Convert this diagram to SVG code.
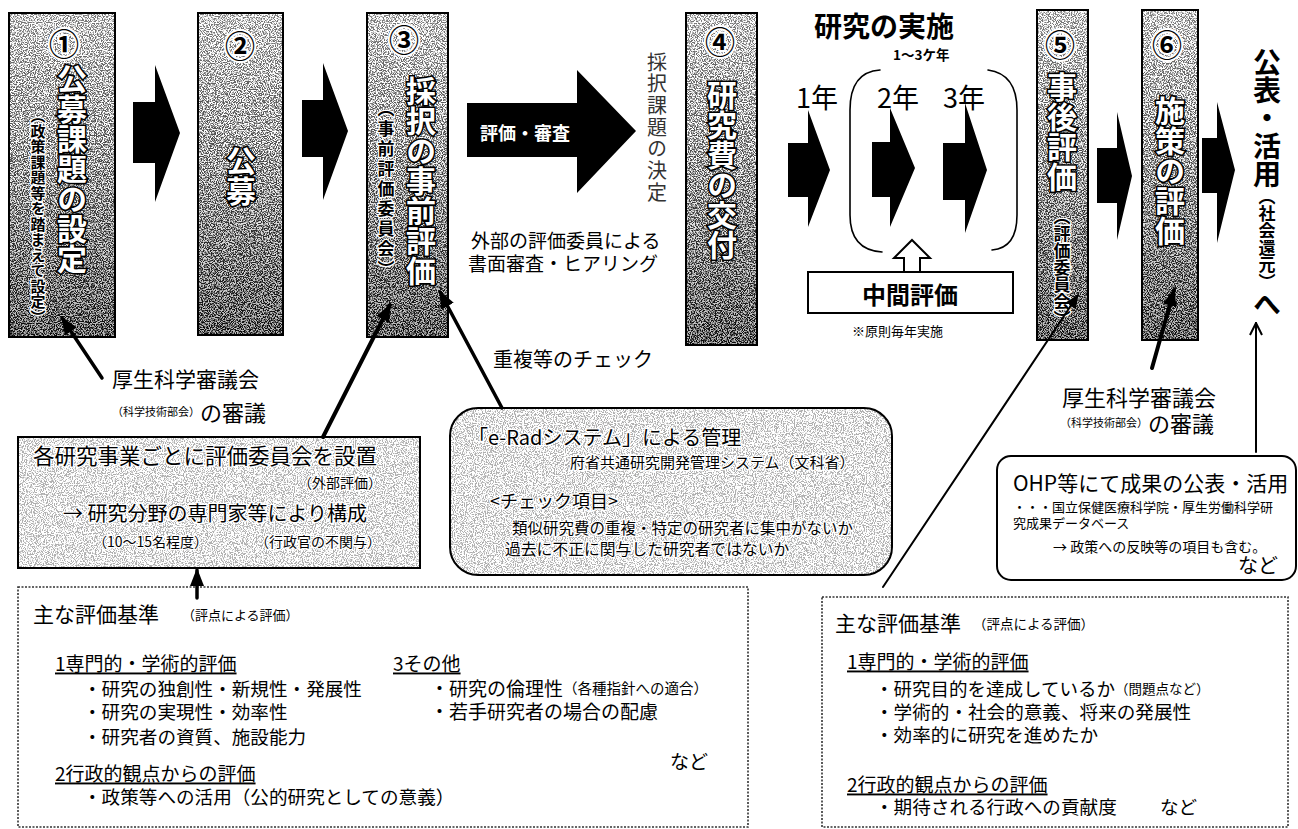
<svg xmlns="http://www.w3.org/2000/svg" width="1298" height="829" viewBox="0 0 1298 829">
<defs>
<style>
.jp{font-family:"Noto Sans CJK JP","Noto Sans CJK SC",sans-serif;fill:#000}
.v{writing-mode:vertical-rl}
.c{dominant-baseline:central}
.b{font-weight:700}
.colb{fill:none;stroke:#000;stroke-width:2}
.big{fill:#fff;stroke:#000;stroke-width:3.2;paint-order:stroke fill;font-weight:700;font-size:30px}
.num{fill:#000;stroke:#fff;stroke-width:4;paint-order:stroke fill;font-weight:700;font-size:30px;text-anchor:middle}
.sm{fill:#000;stroke:#fff;stroke-width:2.5;paint-order:stroke fill;font-weight:700}
.halo{stroke:#fff;stroke-width:2.5;paint-order:stroke fill}
.u{text-decoration:underline}
.blk{fill:#000}
.ptr{stroke:#000;fill:none;stroke-linecap:round}
.dot{fill:#fff;stroke:#333;stroke-width:1.6;stroke-dasharray:2 1.5}
</style>
<linearGradient id="colg" x1="0" y1="0" x2="0" y2="1">
<stop offset="0" stop-color="#d2d2d2"/>
<stop offset="0.5" stop-color="#9a9a9a"/>
<stop offset="1" stop-color="#606060"/>
</linearGradient>
<filter id="grain" x="0" y="0" width="1" height="1" color-interpolation-filters="sRGB">
<feTurbulence type="fractalNoise" baseFrequency="0.85" numOctaves="2" seed="7" result="n"/>
<feColorMatrix in="n" type="matrix" values="5 0 0 0 -2  5 0 0 0 -2  5 0 0 0 -2  0 0 0 0 1" result="g"/>
<feComposite in="SourceGraphic" in2="g" operator="arithmetic" k1="0" k2="1" k3="0.7" k4="-0.35" result="c"/>
<feComposite in="c" in2="SourceAlpha" operator="in"/>
</filter>
<filter id="grainL" x="0" y="0" width="1" height="1" color-interpolation-filters="sRGB">
<feTurbulence type="fractalNoise" baseFrequency="0.9" numOctaves="2" seed="3" result="n"/>
<feColorMatrix in="n" type="matrix" values="5 0 0 0 -2  5 0 0 0 -2  5 0 0 0 -2  0 0 0 0 1" result="g"/>
<feComposite in="SourceGraphic" in2="g" operator="arithmetic" k1="0" k2="1" k3="0.5" k4="-0.25" result="c"/>
<feComposite in="c" in2="SourceAlpha" operator="in"/>
</filter>
<marker id="ah" markerUnits="userSpaceOnUse" markerWidth="18" markerHeight="14" refX="16" refY="7" orient="auto">
<path d="M0,0 L18,7 L0,14 z" fill="#000"/>
</marker>
<marker id="ahs" markerUnits="userSpaceOnUse" markerWidth="14" markerHeight="12" refX="13" refY="6" orient="auto">
<path d="M0,0 L14,6 L0,12 z" fill="#000"/>
</marker>
<marker id="aho" markerUnits="userSpaceOnUse" markerWidth="14" markerHeight="14" refX="13" refY="7" orient="auto">
<path d="M1,1 L13,7 L1,13" fill="none" stroke="#000" stroke-width="2"/>
</marker>
</defs>
<rect width="1298" height="829" fill="#fff"/>

<g id="node1">
<rect x="9" y="13" width="106" height="324" fill="url(#colg)" filter="url(#grain)"/>
<rect class="colb" x="9" y="13" width="106" height="324"/>
<text class="jp num c" x="64" y="42">①</text>
<text class="jp v big" x="72" y="64">公募課題の設定</text>
<text class="jp v sm" x="38" y="108" font-size="15" letter-spacing="0.5">（政策課題等を踏まえて設定）</text>
</g>
<g id="node2">
<rect x="198" y="13" width="85" height="322" fill="url(#colg)" filter="url(#grain)"/>
<rect class="colb" x="198" y="13" width="85" height="322"/>
<text class="jp num c" x="240" y="44">②</text>
<text class="jp v big" x="241" y="146" font-size="28">公募</text>
</g>
<g id="node3">
<rect x="367" y="13" width="81" height="324" fill="url(#colg)" filter="url(#grain)"/>
<rect class="colb" x="367" y="13" width="81" height="324"/>
<text class="jp num c" x="404" y="38">③</text>
<text class="jp v big" x="421" y="76">採択の事前評価</text>
<text class="jp v sm" x="386" y="100" font-size="17" letter-spacing="3">（事前評価委員会）</text>
</g>
<g id="node4">
<rect x="686" y="13" width="71" height="332" fill="url(#colg)" filter="url(#grain)"/>
<rect class="colb" x="686" y="13" width="71" height="332"/>
<text class="jp num c" x="720" y="40">④</text>
<text class="jp v big" x="722" y="80">研究費の交付</text>
</g>
<g id="node5">
<rect x="1037" y="10" width="51" height="330" fill="url(#colg)" filter="url(#grain)"/>
<rect class="colb" x="1037" y="10" width="51" height="330"/>
<text class="jp num c" x="1060" y="43">⑤</text>
<text class="jp v big" x="1062" y="72">事後評価</text>
<text class="jp v sm" x="1062" y="208" font-size="17">（評価委員会）</text>
</g>
<g id="node6">
<rect x="1142" y="10" width="56" height="330" fill="url(#colg)" filter="url(#grain)"/>
<rect class="colb" x="1142" y="10" width="56" height="330"/>
<text class="jp num c" x="1167" y="43">⑥</text>
<text class="jp v big" x="1170" y="96">施策の評価</text>
</g>

<g id="research">
<text class="jp b c" x="814" y="25" font-size="28">研究の実施</text>
<text class="jp b c" x="893" y="54" font-size="13.5">1～3ケ年</text>
<text class="jp c" x="796" y="96" font-size="27">1年</text>
<text class="jp c" x="877" y="96" font-size="27">2年</text>
<text class="jp c" x="943" y="96" font-size="27">3年</text>
</g>
<g id="interim">
<rect x="808" y="272" width="205" height="41" fill="#fff" stroke="#000" stroke-width="2"/>
<text class="jp b c" x="910" y="293" font-size="24" text-anchor="middle">中間評価</text>
<text class="jp c" x="852" y="330" font-size="13">※原則毎年実施</text>
</g>

<g id="labels">
<text class="jp v" x="657" y="52" font-size="20" letter-spacing="1.7" style="fill:#333">採択課題の決定</text>
<text class="jp c" x="471" y="239" font-size="19">外部の評価委員による</text>
<text class="jp c" x="468" y="262" font-size="19">書面審査・ヒアリング</text>
<text class="jp c" x="493" y="358" font-size="20">重複等のチェック</text>
<text class="jp c" x="112" y="378" font-size="21">厚生科学審議会</text>
<text class="jp c" x="112" y="411" font-size="22"><tspan font-size="11">（科学技術部会）</tspan>の審議</text>
<text class="jp c" x="1062" y="396" font-size="22">厚生科学審議会</text>
<text class="jp c" x="1060" y="422" font-size="22"><tspan font-size="11">（科学技術部会）</tspan>の審議</text>
<text class="jp v b" x="1267" y="48" font-size="28">公表・活用<tspan font-size="17">（社会還元）</tspan>へ</text>
</g>

<g id="committee">
<rect x="18" y="437" width="402" height="131" fill="#efefef" filter="url(#grainL)"/>
<rect x="18" y="437" width="402" height="131" fill="none" stroke="#000" stroke-width="2"/>
<text class="jp c halo" x="33" y="454" font-size="21.5">各研究事業ごとに評価委員会を設置</text>
<text class="jp c halo" x="382" y="482" font-size="14" text-anchor="end">（外部評価）</text>
<text class="jp c halo" x="63" y="512" font-size="20">→ 研究分野の専門家等により構成</text>
<text class="jp c halo" x="93" y="541" font-size="14">（10～15名程度）</text>
<text class="jp c halo" x="255" y="541" font-size="14">（行政官の不関与）</text>
</g>

<g id="erad">
<rect x="450" y="408" width="442" height="167" rx="28" fill="#efefef" filter="url(#grainL)"/>
<rect x="450" y="408" width="442" height="167" rx="28" fill="none" stroke="#000" stroke-width="2"/>
<text class="jp c halo" x="468" y="436" font-size="20">「e-Radシステム」による管理</text>
<text class="jp c halo" x="570" y="461" font-size="15">府省共通研究開発管理システム（文科省）</text>
<text class="jp c halo" x="490" y="500" font-size="18">&lt;チェック項目&gt;</text>
<text class="jp c halo" x="512" y="527" font-size="15.5">類似研究費の重複・特定の研究者に集中がないか</text>
<text class="jp c halo" x="505" y="548" font-size="15.8">過去に不正に関与した研究者ではないか</text>
</g>

<g id="ohp">
<rect x="997" y="456" width="299" height="124" rx="14" fill="#fff" stroke="#000" stroke-width="2"/>
<text class="jp c" x="1013" y="482" font-size="21">OHP等にて成果の公表・活用</text>
<text class="jp c" x="1013" y="506" font-size="13">・・・国立保健医療科学院・厚生労働科学研</text>
<text class="jp c" x="1013" y="522" font-size="13">究成果データベース</text>
<text class="jp c" x="1053" y="546" font-size="14">→ 政策への反映等の項目も含む。</text>
<text class="jp c" x="1238" y="564" font-size="20">など</text>
</g>

<g id="criteria-left">
<rect class="dot" x="18" y="587" width="730" height="240"/>
<text class="jp c" x="33" y="613" font-size="21">主な評価基準</text>
<text class="jp c" x="182" y="614" font-size="13">（評点による評価）</text>
<text class="jp c u" x="55" y="662" font-size="19">1専門的・学術的評価</text>
<text class="jp c" x="83" y="687" font-size="18.6">・研究の独創性・新規性・発展性</text>
<text class="jp c" x="83" y="710" font-size="18.6">・研究の実現性・効率性</text>
<text class="jp c" x="83" y="735" font-size="18.6">・研究者の資質、施設能力</text>
<text class="jp c u" x="55" y="772" font-size="19">2行政的観点からの評価</text>
<text class="jp c" x="83" y="795" font-size="18.6">・政策等への活用（公的研究としての意義）</text>
<text class="jp c u" x="393" y="662" font-size="19">3その他</text>
<text class="jp c" x="430" y="687" font-size="19">・研究の倫理性<tspan font-size="14.5">（各種指針への適合）</tspan></text>
<text class="jp c" x="430" y="710" font-size="19">・若手研究者の場合の配慮</text>
<text class="jp c" x="670" y="760" font-size="19">など</text>
</g>

<g id="criteria-right">
<rect class="dot" x="822" y="597" width="466" height="230"/>
<text class="jp c" x="835" y="622" font-size="21">主な評価基準</text>
<text class="jp c" x="973" y="623" font-size="13.5">（評点による評価）</text>
<text class="jp c u" x="847" y="660" font-size="19">1専門的・学術的評価</text>
<text class="jp c" x="875" y="688" font-size="18.5">・研究目的を達成しているか<tspan font-size="13.5">（問題点など）</tspan></text>
<text class="jp c" x="875" y="710" font-size="18.6">・学術的・社会的意義、将来の発展性</text>
<text class="jp c" x="875" y="733" font-size="18.6">・効率的に研究を進めたか</text>
<text class="jp c u" x="847" y="783" font-size="19">2行政的観点からの評価</text>
<text class="jp c" x="875" y="805" font-size="18.6">・期待される行政への貢献度</text>
<text class="jp c" x="1160" y="805" font-size="18.6">など</text>
</g>

<g id="connectors">
<polygon class="blk" points="133,102 155,102 155,65 180,133 155,202 155,163 133,163"/>
<polygon class="blk" points="302,100 323,100 323,63 348,131 323,200 323,157 302,157"/>
<polygon class="blk" points="467,103 577,103 577,70 636,131 577,193 577,157 467,157"/>
<text class="jp b c" x="480" y="132" font-size="18" style="fill:#fff">評価・審査</text>
<polygon class="blk" points="788,143 808,143 808,110 830,170 808,227 808,197 788,197"/>
<polygon class="blk" points="872,142 890,142 890,108 915,168 890,227 890,197 872,197"/>
<polygon class="blk" points="943,143 965,143 965,103 987,170 965,233 965,200 943,200"/>
<polygon class="blk" points="1097,148 1117,148 1117,112 1132,176 1117,240 1117,203 1097,203"/>
<polygon class="blk" points="1202,138 1217,138 1217,102 1235,170 1217,243 1217,193 1202,193"/>
<path class="ptr" stroke-width="1.6" d="M880,70 Q850,72 850,110 L850,215 Q850,250 882,252"/>
<path class="ptr" stroke-width="1.6" d="M988,70 Q1017,74 1017,110 L1017,215 Q1017,248 992,250"/>
<polygon points="912,240 930,258 920,258 920,272 904,272 904,258 894,258" fill="#fff" stroke="#000" stroke-width="2"/>
<line class="ptr" stroke-width="3.5" x1="102" y1="378" x2="62" y2="318" marker-end="url(#ah)"/>
<line class="ptr" stroke-width="4" x1="323" y1="437" x2="390" y2="305" marker-end="url(#ah)"/>
<line class="ptr" stroke-width="3.5" x1="502" y1="408" x2="440" y2="292" marker-end="url(#ah)"/>
<line class="ptr" stroke-width="2" x1="883" y1="587" x2="1078" y2="295" marker-end="url(#ahs)"/>
<line class="ptr" stroke-width="4" x1="1152" y1="368" x2="1174" y2="290" marker-end="url(#ah)"/>
<line class="ptr" stroke-width="2" x1="1256" y1="452" x2="1256" y2="323" marker-end="url(#aho)"/>
<line class="ptr" stroke-width="3.5" x1="197" y1="598" x2="197" y2="570" marker-end="url(#ah)"/>
</g>
</svg>
